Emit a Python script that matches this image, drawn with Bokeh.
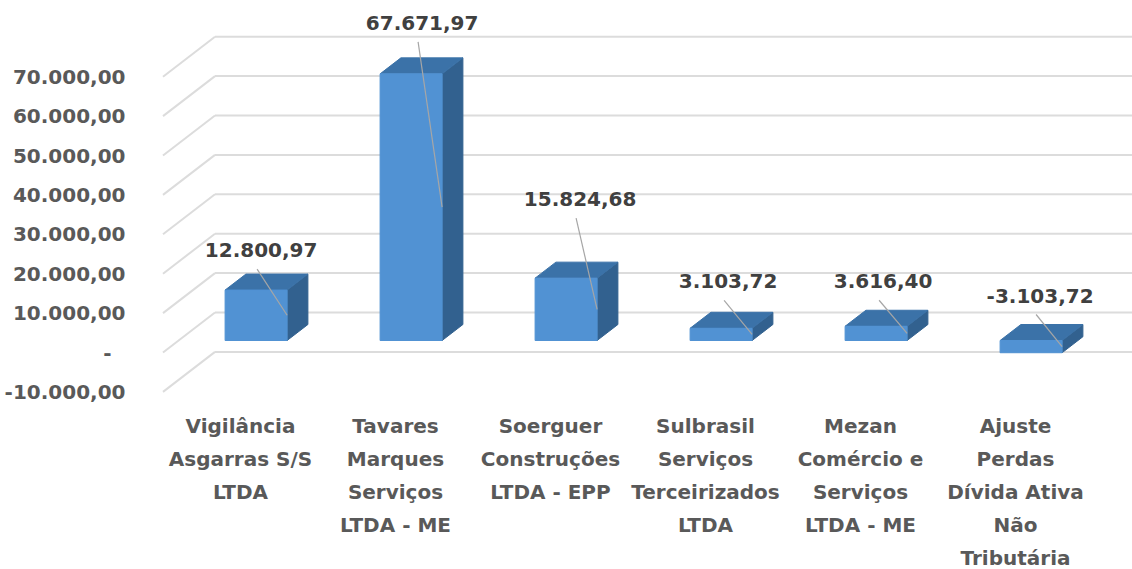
from bokeh.plotting import figure
from bokeh.models import ColumnDataSource, FixedTicker
from bokeh.core.properties import value
from bokeh.embed import file_html
from bokeh.resources import INLINE

categories = [
    "Vigilância\nAsgarras S/S\nLTDA",
    "Tavares\nMarques\nServiços\nLTDA - ME",
    "Soerguer\nConstruções\nLTDA - EPP",
    "Sulbrasil\nServiços\nTerceirizados\nLTDA",
    "Mezan\nComércio e\nServiços\nLTDA - ME",
    "Ajuste\nPerdas\nDívida Ativa\nNão\nTributária",
]
values = [12800.97, 67671.97, 15824.68, 3103.72, 3616.40, -3103.72]
value_labels = ["12.800,97", "67.671,97", "15.824,68", "3.103,72", "3.616,40", "-3.103,72"]
y_ticks = [-10000, 0, 10000, 20000, 30000, 40000, 50000, 60000, 70000]
y_tick_labels = ["-10.000,00", "-\u00a0\u00a0", "10.000,00", "20.000,00", "30.000,00",
                 "40.000,00", "50.000,00", "60.000,00", "70.000,00"]

# Layout: pixels per data unit, and the oblique projection of the 3-D box
PX_X = 155.0
PX_Y = 39.4 / 10000
DEPTH_X = 52 / PX_X
DEPTH_Y = 40 / PX_Y
BAR_HALF = 0.2
D0, D1 = 0.3, 0.7
label_dx = [5, 11, 14, 7, 7, 9]
label_dy = [-40, -51, -79, -47, -45, -45]
LEADER_DX, LEADER_DY = -4, 19

FONT = "DejaVu Sans"
W, H = 1132, 569
LEFT = 140

p = figure(width=W, height=H, output_backend="svg", toolbar_location=None,
           x_range=((LEFT - 240) / PX_X, (W - 240) / PX_X),
           y_range=(-(H - 352) / PX_Y, 352 / PX_Y),
           min_border_left=LEFT, min_border_right=0, min_border_top=0, min_border_bottom=0,
           margin=(0, 0, 0, 0), background_fill_color="white", border_fill_color="white")
p.outline_line_color = None
p.grid.visible = False

for ax in (p.xaxis[0], p.yaxis[0]):
    ax.axis_line_color = None
    ax.major_tick_line_color = None
    ax.minor_tick_line_color = None
    ax.major_label_text_font = FONT
    ax.major_label_text_font_style = "bold"
    ax.major_label_text_font_size = "20px"
    ax.major_label_text_color = "#595959"

p.yaxis[0].ticker = FixedTicker(ticks=y_ticks)
p.yaxis[0].major_label_overrides = dict(zip(y_ticks, y_tick_labels))
p.yaxis[0].major_label_standoff = 9
p.xaxis[0].ticker = FixedTicker(ticks=list(range(len(categories))))
p.xaxis[0].major_label_overrides = dict(zip(range(len(categories)), categories))
p.xaxis[0].fixed_location = -48 / PX_Y
p.xaxis[0].major_label_standoff = 7
p.xaxis[0].major_label_text_line_height = 1.38

# Walls: gridlines on the back plane and on the left side plane
xl, xr = -0.5, len(categories) - 0.5
p.segment(x0=[xl + DEPTH_X] * len(y_ticks), x1=[xr + DEPTH_X] * len(y_ticks),
          y0=[t + DEPTH_Y for t in y_ticks], y1=[t + DEPTH_Y for t in y_ticks],
          line_color="#dcdcdc", line_width=2)
p.segment(x0=[xl] * len(y_ticks), x1=[xl + DEPTH_X] * len(y_ticks),
          y0=y_ticks, y1=[t + DEPTH_Y for t in y_ticks],
          line_color="#dcdcdc", line_width=2)

front, top, side = [([], []) for _ in range(3)]
for i, v in enumerate(values):
    hi, lo = max(v, 0), min(v, 0)
    fx0, fx1 = i - BAR_HALF + D0 * DEPTH_X, i + BAR_HALF + D0 * DEPTH_X
    bx0, bx1 = i - BAR_HALF + D1 * DEPTH_X, i + BAR_HALF + D1 * DEPTH_X
    fl, fh = lo + D0 * DEPTH_Y, hi + D0 * DEPTH_Y
    bl, bh = lo + D1 * DEPTH_Y, hi + D1 * DEPTH_Y
    front[0].append([fx0, fx1, fx1, fx0]); front[1].append([fl, fl, fh, fh])
    top[0].append([fx0, fx1, bx1, bx0]); top[1].append([fh, fh, bh, bh])
    side[0].append([fx1, bx1, bx1, fx1]); side[1].append([fl, bl, bh, fh])

p.patches(xs=side[0], ys=side[1], fill_color="#32618F", line_color="#32618F", line_width=1)
p.patches(xs=top[0], ys=top[1], fill_color="#3B72A8", line_color="#3B72A8", line_width=1)
p.patches(xs=front[0], ys=front[1], fill_color="#5192D3", line_color="#5192D3", line_width=1)

# Data labels and their leader lines
anchor_x = [i + D0 * DEPTH_X for i in range(len(values))]
anchor_y = [max(v, 0) + D0 * DEPTH_Y for v in values]
p.segment(
    x0=[x + (dx + LEADER_DX) / PX_X for x, dx in zip(anchor_x, label_dx)],
    y0=[y - (dy + LEADER_DY) / PX_Y for y, dy in zip(anchor_y, label_dy)],
    x1=[x + BAR_HALF for x in anchor_x],
    y1=[v / 2 + D0 * DEPTH_Y for v in values],
    line_color="#a6a6a6", line_width=1.2)
src = ColumnDataSource(dict(x=anchor_x, y=anchor_y, t=value_labels, dx=label_dx, dy=label_dy))
p.text(x="x", y="y", text="t", source=src, x_offset="dx", y_offset="dy",
       text_font=value(FONT), text_font_style="bold", text_font_size="20px",
       text_color="#404040", text_align="center", text_baseline="middle")

open("out.html", "w").write(file_html(p, INLINE))
